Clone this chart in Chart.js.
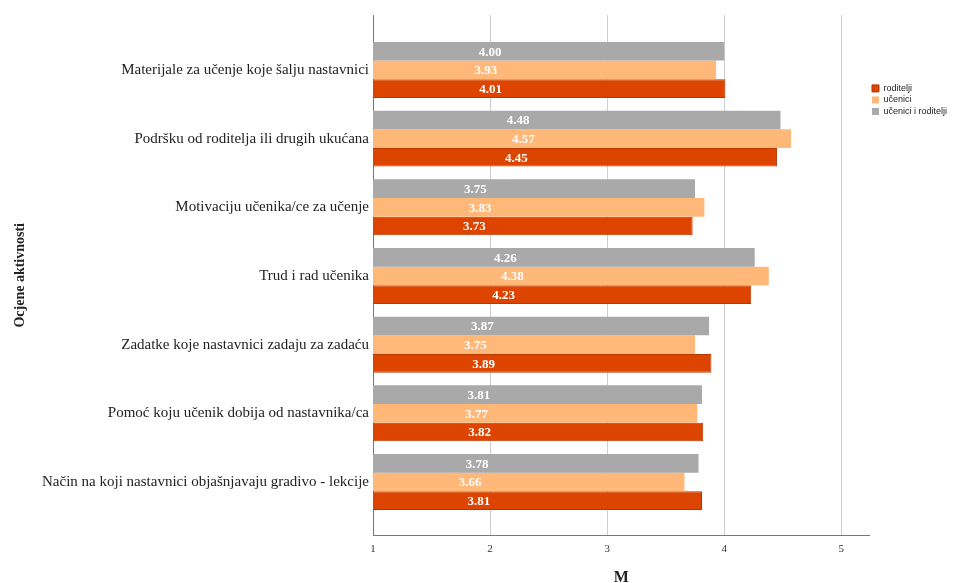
<!DOCTYPE html>
<html>
<head>
<meta charset="utf-8">
<script src="https://cdn.jsdelivr.net/npm/chart.js@4"></script>
<style>
  html, body { margin: 0; padding: 0; background: #fff; }
  #wrap { width: 961px; height: 583px; }
</style>
</head>
<body>
<div id="wrap"><canvas id="chart" width="961" height="583"></canvas></div>
<script>
// kategorije (aktivnosti) i prosjeci po grupama
const categories = [
    'Materijale za učenje koje šalju nastavnici',
    'Podršku od roditelja ili drugih ukućana',
    'Motivaciju učenika/ce za učenje',
    'Trud i rad učenika',
    'Zadatke koje nastavnici zadaju za zadaću',
    'Pomoć koju učenik dobija od nastavnika/ca',
    'Način na koji nastavnici objašnjavaju gradivo - lekcije'
];
const ucenicIRoditelji = [4.00, 4.48, 3.75, 4.26, 3.87, 3.81, 3.78];
const ucenici = [3.93, 4.57, 3.83, 4.38, 3.75, 3.77, 3.66];
const roditelji = [4.01, 4.45, 3.73, 4.23, 3.89, 3.82, 3.81];
const xTicks = [1, 2, 3, 4, 5];

const serif = '"Liberation Serif", "DejaVu Serif", serif';
const sans = '"Liberation Sans", Arial, sans-serif';

// vrijednosti -> tacke na linearnoj osi (indeks kategorije na y)
const toPoints = arr => arr.map((v, i) => ({ x: v, y: i }));

// natpisi vrijednosti u sredini stupca
const valueLabels = {
    id: 'valueLabels',
    afterDatasetsDraw(chart) {
        const ctx = chart.ctx;
        ctx.save();
        ctx.font = 'bold 13px ' + serif;
        ctx.fillStyle = '#fff';
        ctx.textAlign = 'center';
        ctx.textBaseline = 'middle';
        chart.data.datasets.forEach((ds, i) => {
            const meta = chart.getDatasetMeta(i);
            meta.data.forEach((bar, j) => {
                const cx = (bar.x + bar.base) / 2;
                ctx.fillText(ds.data[j].x.toFixed(2), cx, bar.y + 1);
            });
        });
        ctx.restore();
    }
};

new Chart(document.getElementById('chart'), {
    type: 'bar',
    data: {
        datasets: [
            { label: 'učenici i roditelji', data: toPoints(ucenicIRoditelji), backgroundColor: '#a9a9a9' },
            { label: 'učenici', data: toPoints(ucenici), backgroundColor: '#ffb878' },
            { label: 'roditelji', data: toPoints(roditelji), backgroundColor: '#dc4400', borderColor: '#b83800', borderWidth: 1 }
        ]
    },
    options: {
        indexAxis: 'y',
        responsive: false,
        animation: false,
        layout: { padding: { left: 8, top: 15, right: 4, bottom: 0 } },
        datasets: { bar: { categoryPercentage: 0.815, barPercentage: 1 } },
        scales: {
            x: {
                type: 'linear',
                min: 1,
                max: 5.24,
                afterBuildTicks: scale => { scale.ticks = xTicks.map(v => ({ value: v })); },
                grid: { color: '#cfcfcf', drawTicks: false },
                border: { display: true, color: '#777' },
                ticks: { color: '#333', font: { family: serif, size: 11 }, padding: 7 },
                title: { display: true, text: 'M', color: '#222', font: { family: serif, size: 16, weight: 'bold' }, padding: { top: 5, bottom: -4 } }
            },
            y: {
                type: 'linear',
                reverse: true,
                offset: false,
                min: -0.8,
                max: 6.78,
                afterBuildTicks: scale => { scale.ticks = categories.map((c, i) => ({ value: i })); },
                grid: { display: false, drawTicks: false },
                border: { display: true, color: '#777' },
                ticks: { color: '#222', font: { family: serif, size: 15 }, padding: 4, callback: v => categories[v] },
                title: { display: true, text: 'Ocjene aktivnosti', color: '#222', font: { family: serif, size: 14, weight: 'bold' } },
                afterFit: scale => { scale.width = 365; }
            }
        },
        plugins: {
            legend: {
                position: 'right',
                align: 'start',
                reverse: true,
                labels: { boxWidth: 7, boxHeight: 7, padding: 2.5, color: '#222', font: { family: sans, size: 9 } },
                title: { display: true, text: ' ', padding: { top: 52, bottom: 0 } }
            },
            tooltip: { enabled: false }
        }
    },
    plugins: [valueLabels]
});
</script>
</body>
</html>
